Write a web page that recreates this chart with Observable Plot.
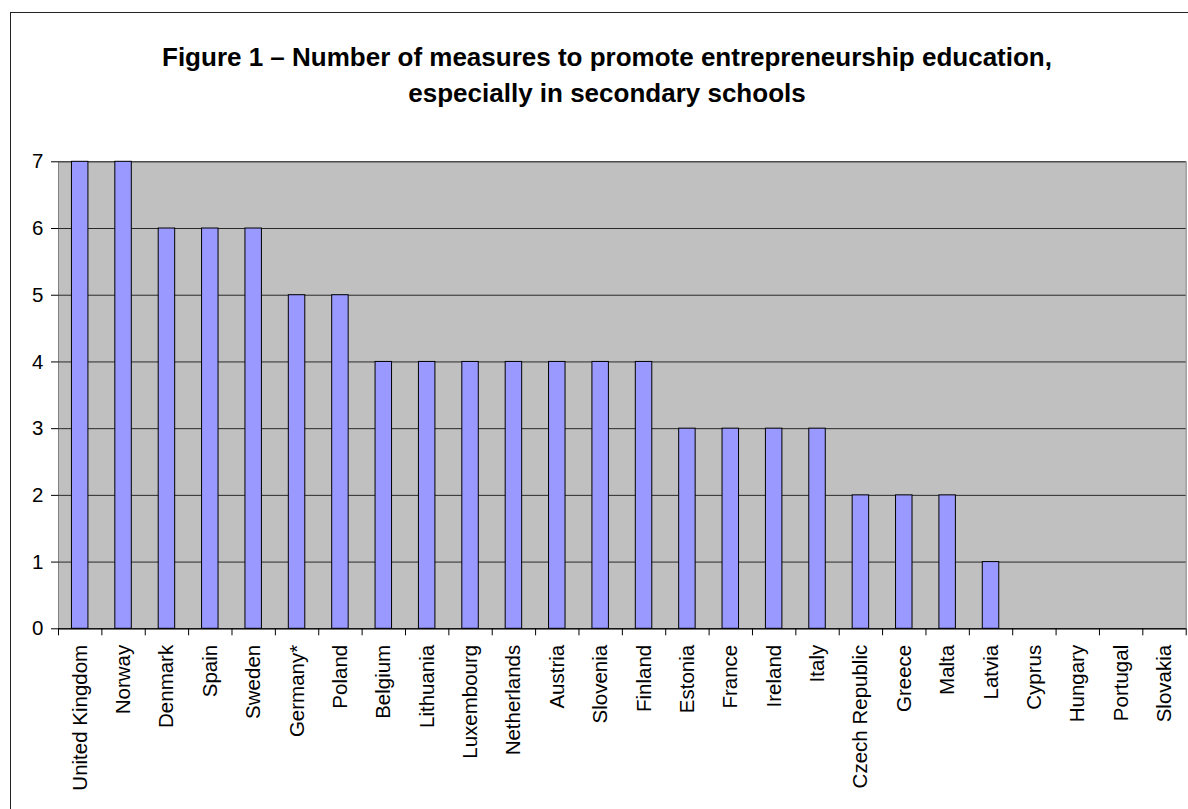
<!DOCTYPE html>
<html><head><meta charset="utf-8">
<script src="https://cdn.jsdelivr.net/npm/d3@7"></script>
<script src="https://cdn.jsdelivr.net/npm/@observablehq/plot@0.6"></script>
<style>
html,body{margin:0;padding:0;background:#fff;overflow:hidden;width:1188px;height:809px;}
#frame{position:absolute;left:10px;top:12px;width:1200px;height:820px;border:1.5px solid #222;box-sizing:border-box;}
#title{position:absolute;left:0;top:39px;width:1214px;text-align:center;font:bold 26px/36px "Liberation Sans",Arial,sans-serif;color:#000;}
#chart{position:absolute;left:0;top:140px;}
</style></head><body>
<div id="frame"></div>
<div id="title">Figure 1 – Number of measures to promote entrepreneurship education,<br>especially in secondary schools</div>
<div id="chart"></div>
<script>
const countries = ["United Kingdom","Norway","Denmark","Spain","Sweden","Germany*","Poland","Belgium","Lithuania","Luxembourg","Netherlands","Austria","Slovenia","Finland","Estonia","France","Ireland","Italy","Czech Republic","Greece","Malta","Latvia","Cyprus","Hungary","Portugal","Slovakia"];
const measures = [7,7,6,6,6,5,5,4,4,4,4,4,4,4,3,3,3,3,2,2,2,1,0,0,0,0];
const yTicks = [0,1,2,3,4,5,6,7];

const data = countries.map((c, i) => ({country: c, value: measures[i]}));
const W = 1188, H = 669, mL = 58, mR = 2.3, mT = 21.3, mB = 180.7;
const step = (W - mL - mR) / countries.length;
const last = countries[countries.length - 1];

const chart = Plot.plot({
  width: W, height: H,
  marginLeft: mL, marginRight: mR, marginTop: mT, marginBottom: mB,
  style: {fontFamily: '"Liberation Sans", Arial, sans-serif', fontSize: "20.5px", color: "#000", background: "transparent", overflow: "visible"},
  x: {domain: countries, paddingInner: 0.62, paddingOuter: 0.31, align: 0.5, round: false, label: null, tickSize: 0, tickPadding: 16, tickRotate: -90},
  y: {domain: [0, 7], ticks: yTicks, tickFormat: d => String(d), label: null, tickSize: 7, tickPadding: 8},
  marks: [
    Plot.frame({fill: "#C0C0C0", stroke: "#808080"}),
    Plot.ruleY(yTicks, {stroke: "#2a2a2a"}),
    Plot.barY(data, {x: "country", y: "value", fill: "#9999FF", stroke: "#000", strokeWidth: 1}),
    Plot.ruleY([0], {stroke: "#000"}),
    Plot.ruleX(countries, {x: d => d, y1: 0, y2: 0, dx: -step / 2, insetBottom: -7, stroke: "#000"}),
    Plot.ruleX([last], {x: d => d, y1: 0, y2: 0, dx: step / 2, insetBottom: -7, stroke: "#000"})
  ]
});
document.getElementById("chart").appendChild(chart);
</script>
</body></html>
